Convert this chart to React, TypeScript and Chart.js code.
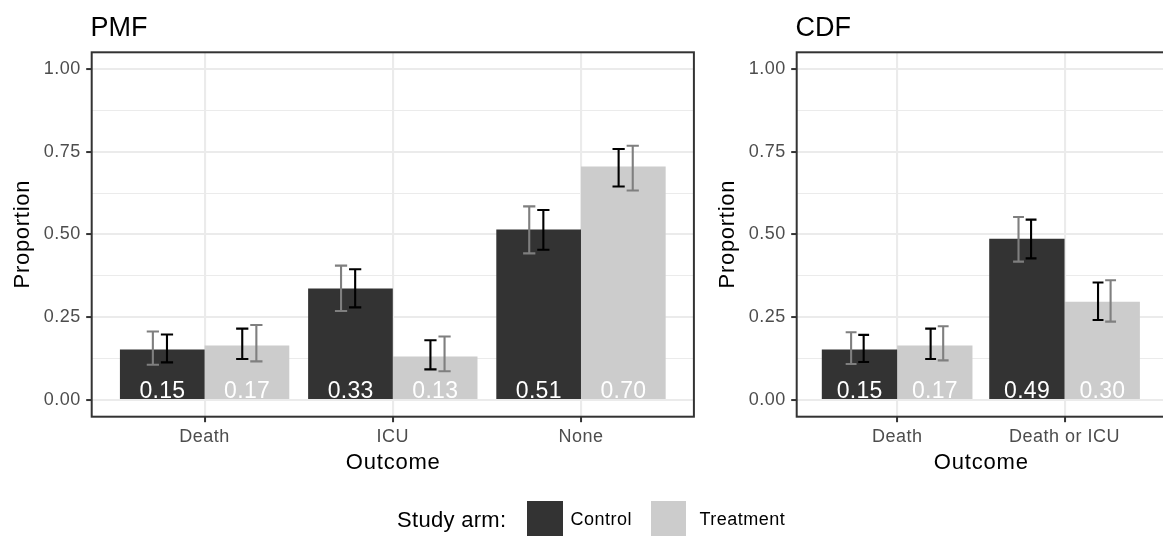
import React, { useEffect, useRef } from 'react';
import { Chart, registerables } from 'chart.js';

Chart.register(...registerables);

const FONT = "'Liberation Sans', Arial, Helvetica, sans-serif";

// ---------------- data ----------------
const pmfCategories = ['Death', 'ICU', 'None'];
const pmfControl = [0.153, 0.337, 0.515];
const pmfTreatment = [0.165, 0.132, 0.705];
const pmfControlLabels = ['0.15', '0.33', '0.51'];
const pmfTreatmentLabels = ['0.17', '0.13', '0.70'];
const pmfControlBlackLo = [0.114, 0.28, 0.454];
const pmfControlBlackHi = [0.198, 0.395, 0.574];
const pmfControlGreyLo = [0.107, 0.269, 0.443];
const pmfControlGreyHi = [0.207, 0.406, 0.585];
const pmfTreatmentBlackLo = [0.124, 0.093, 0.645];
const pmfTreatmentBlackHi = [0.216, 0.181, 0.758];
const pmfTreatmentGreyLo = [0.117, 0.087, 0.633];
const pmfTreatmentGreyHi = [0.227, 0.192, 0.768];

const cdfCategories = ['Death', 'Death or ICU'];
const cdfControl = [0.153, 0.487];
const cdfTreatment = [0.165, 0.297];
const cdfControlLabels = ['0.15', '0.49'];
const cdfTreatmentLabels = ['0.17', '0.30'];
const cdfControlBlackLo = [0.115, 0.428];
const cdfControlBlackHi = [0.197, 0.545];
const cdfControlGreyLo = [0.109, 0.418];
const cdfControlGreyHi = [0.205, 0.553];
const cdfTreatmentBlackLo = [0.124, 0.242];
const cdfTreatmentBlackHi = [0.216, 0.355];
const cdfTreatmentGreyLo = [0.12, 0.237];
const cdfTreatmentGreyHi = [0.223, 0.362];

const yMajorTicks = [0, 0.25, 0.5, 0.75, 1];
const yMinorTicks = [0.125, 0.375, 0.625, 0.875];
const yTickLabels = ['0.00', '0.25', '0.50', '0.75', '1.00'];
const yRange = [-0.05, 1.05];
const seriesNames = ['Control', 'Treatment'];
const seriesColors = ['#333333', '#CCCCCC'];
const legendTitle = 'Study arm:';
const xAxisTitle = 'Outcome';
const yAxisTitle = 'Proportion';

// ---------------- style / layout constants ----------------
const H = 538;
const AREA_TOP = 52.3;
const AREA_BOTTOM = 416.7;
const Y_AXIS_W = 91.7;
const GRID = '#EBEBEB';
const INK = '#333333';
const TICK_TEXT = '#4D4D4D';
const BLACK_BAR = '#000000';
const GREY_BAR = '#7F7F7F';
const BLACK_OFF = 0.2;
const GREY_OFF = 0.275;
const CAP_W = 0.065;

type PanelSpec = {
  title: string;
  categories: string[];
  control: number[];
  treatment: number[];
  controlLabels: string[];
  treatmentLabels: string[];
  cBlackLo: number[]; cBlackHi: number[]; cGreyLo: number[]; cGreyHi: number[];
  tBlackLo: number[]; tBlackHi: number[]; tGreyLo: number[]; tGreyHi: number[];
  left: number;
  width: number;
  areaRight: number;
};

const pmfSpec: PanelSpec = {
  title: 'PMF',
  categories: pmfCategories,
  control: pmfControl,
  treatment: pmfTreatment,
  controlLabels: pmfControlLabels,
  treatmentLabels: pmfTreatmentLabels,
  cBlackLo: pmfControlBlackLo, cBlackHi: pmfControlBlackHi,
  cGreyLo: pmfControlGreyLo, cGreyHi: pmfControlGreyHi,
  tBlackLo: pmfTreatmentBlackLo, tBlackHi: pmfTreatmentBlackHi,
  tGreyLo: pmfTreatmentGreyLo, tGreyHi: pmfTreatmentGreyHi,
  left: 0,
  width: 705,
  areaRight: 693.9,
};

const cdfSpec: PanelSpec = {
  title: 'CDF',
  categories: cdfCategories,
  control: cdfControl,
  treatment: cdfTreatment,
  controlLabels: cdfControlLabels,
  treatmentLabels: cdfTreatmentLabels,
  cBlackLo: cdfControlBlackLo, cBlackHi: cdfControlBlackHi,
  cGreyLo: cdfControlGreyLo, cGreyHi: cdfControlGreyHi,
  tBlackLo: cdfTreatmentBlackLo, tBlackHi: cdfTreatmentBlackHi,
  tGreyLo: cdfTreatmentGreyLo, tGreyHi: cdfTreatmentGreyHi,
  left: 705,
  width: 470,
  areaRight: 460,
};

const isMajor = (v: number) => yMajorTicks.indexOf(v) >= 0;

function Panel({ spec }: { spec: PanelSpec }) {
  const ref = useRef<HTMLCanvasElement | null>(null);

  useEffect(() => {
    const canvas = ref.current;
    if (!canvas) return;
    const n = spec.categories.length;

    const drawErr = (ctx: any, xs: any, ys: any, xc: number, lo: number, hi: number, color: string) => {
      const x = xs.getPixelForValue(xc);
      const hw = xs.getPixelForValue(xc + CAP_W / 2) - x;
      const yl = ys.getPixelForValue(lo);
      const yh = ys.getPixelForValue(hi);
      ctx.strokeStyle = color;
      ctx.lineWidth = 2.1;
      ctx.lineCap = 'butt';
      ctx.beginPath();
      ctx.moveTo(x - hw, yh); ctx.lineTo(x + hw, yh);
      ctx.moveTo(x, yh); ctx.lineTo(x, yl);
      ctx.moveTo(x - hw, yl); ctx.lineTo(x + hw, yl);
      ctx.stroke();
    };

    const decor = {
      id: 'panelDecor',
      beforeDraw(chart: any) {
        chart.ctx.letterSpacing = '0.5px';
      },
      afterDatasetsDraw(chart: any) {
        const ctx = chart.ctx;
        const xs = chart.scales.x;
        const ys = chart.scales.y;
        ctx.save();
        // value labels
        ctx.letterSpacing = '0.3px';
        ctx.font = `23px ${FONT}`;
        ctx.fillStyle = '#FFFFFF';
        ctx.textAlign = 'center';
        ctx.textBaseline = 'alphabetic';
        const yb = ys.getPixelForValue(0) - 2.2;
        [spec.controlLabels, spec.treatmentLabels].forEach((labels, d) => {
          const meta = chart.getDatasetMeta(d);
          labels.forEach((t, i) => {
            ctx.fillText(t, meta.data[i].x + 0.15, yb);
          });
        });
        // error bars
        for (let i = 0; i < n; i++) {
          drawErr(ctx, xs, ys, i - GREY_OFF, spec.cGreyLo[i], spec.cGreyHi[i], GREY_BAR);
          drawErr(ctx, xs, ys, i - BLACK_OFF, spec.cBlackLo[i], spec.cBlackHi[i], BLACK_BAR);
          drawErr(ctx, xs, ys, i + BLACK_OFF, spec.tBlackLo[i], spec.tBlackHi[i], BLACK_BAR);
          drawErr(ctx, xs, ys, i + GREY_OFF, spec.tGreyLo[i], spec.tGreyHi[i], GREY_BAR);
        }
        ctx.restore();
      },
      afterDraw(chart: any) {
        const ctx = chart.ctx;
        const a = chart.chartArea;
        ctx.save();
        // panel border
        ctx.strokeStyle = INK;
        ctx.lineWidth = 2;
        ctx.strokeRect(a.left, a.top, a.right - a.left, a.bottom - a.top);
        // panel title
        ctx.letterSpacing = '0px';
        ctx.fillStyle = '#000000';
        ctx.font = `27px ${FONT}`;
        ctx.textAlign = 'left';
        ctx.textBaseline = 'alphabetic';
        ctx.fillText(spec.title, a.left - 1.2, 35.5);
        // x axis title
        ctx.letterSpacing = '0.8px';
        ctx.font = `22px ${FONT}`;
        ctx.textAlign = 'center';
        ctx.fillText(xAxisTitle, (a.left + a.right) / 2 + 0.4, 469);
        // y axis title
        ctx.letterSpacing = '0.7px';
        ctx.translate(a.left - 62.5, (a.top + a.bottom) / 2);
        ctx.rotate(-Math.PI / 2);
        ctx.textAlign = 'center';
        ctx.fillText(yAxisTitle, 0.35, 0);
        ctx.restore();
      },
    };

    const chart = new Chart(canvas, {
      type: 'bar',
      data: {
        datasets: [spec.control, spec.treatment].map((vals, d) => ({
          label: seriesNames[d],
          data: spec.categories.map((_, i) => ({ x: i, y: vals[i] })),
          backgroundColor: seriesColors[d],
          borderWidth: 0,
          categoryPercentage: 0.9,
          barPercentage: 1,
        })),
      },
      options: {
        responsive: false,
        animation: false,
        events: [],
        layout: {
          padding: { left: 0, top: AREA_TOP, right: spec.width - spec.areaRight, bottom: 0 },
        },
        plugins: {
          legend: { display: false },
          tooltip: { enabled: false },
          title: { display: false },
        },
        scales: {
          x: {
            type: 'linear',
            min: -0.6,
            max: n - 0.4,
            offset: false,
            afterBuildTicks: (s: any) => {
              s.ticks = spec.categories.map((_, i) => ({ value: i }));
            },
            afterFit: (s: any) => {
              s.height = H - AREA_BOTTOM;
              s.paddingLeft = 0;
              s.paddingRight = 0;
            },
            grid: {
              offset: false,
              color: GRID,
              lineWidth: 2.1,
              tickColor: INK,
              tickWidth: 2,
              tickLength: 5.5,
              drawTicks: true,
            },
            border: { display: false },
            ticks: {
              callback: (v: any) => spec.categories[v] ?? '',
              color: TICK_TEXT,
              font: { family: FONT, size: 18 },
              padding: 4.5,
              autoSkip: false,
              maxRotation: 0,
              minRotation: 0,
            },
          } as any,
          y: {
            type: 'linear',
            min: yRange[0],
            max: yRange[1],
            beginAtZero: false,
            afterBuildTicks: (s: any) => {
              s.ticks = [...yMajorTicks, ...yMinorTicks]
                .sort((p, q) => p - q)
                .map((v) => ({ value: v }));
            },
            afterFit: (s: any) => {
              s.width = Y_AXIS_W;
              s.paddingTop = 0;
              s.paddingBottom = 0;
            },
            grid: {
              color: GRID,
              lineWidth: (c: any) => (c.tick && !isMajor(c.tick.value) ? 1.05 : 2.1),
              tickColor: (c: any) => (c.tick && isMajor(c.tick.value) ? INK : 'rgba(0,0,0,0)'),
              tickWidth: 2,
              tickLength: 5.5,
              drawTicks: true,
            },
            border: { display: false },
            ticks: {
              callback: (v: any) => {
                const k = yMajorTicks.indexOf(v);
                return k >= 0 ? yTickLabels[k] : '';
              },
              color: TICK_TEXT,
              font: { family: FONT, size: 18 },
              padding: 5.4,
              autoSkip: false,
            },
          } as any,
        },
      },
      plugins: [decor],
    });

    return () => chart.destroy();
  }, [spec]);

  return (
    <canvas
      ref={ref}
      width={spec.width}
      height={H}
      style={{ position: 'absolute', left: spec.left, top: 0, width: spec.width, height: H }}
    />
  );
}

const legendKeyLefts = [527.3, 651];
const legendTextLefts = [570.5, 699.5];

export default function App() {
  const textBase: React.CSSProperties = {
    position: 'absolute',
    fontFamily: FONT,
    color: '#000',
    whiteSpace: 'nowrap',
    height: 30,
    lineHeight: '30px',
  };
  return (
    <div
      style={{
        position: 'fixed',
        left: 0,
        top: 0,
        width: 1163,
        height: H,
        overflow: 'hidden',
        background: '#FFFFFF',
      }}
    >
      <Panel spec={pmfSpec} />
      <Panel spec={cdfSpec} />
      <div style={{ ...textBase, left: 397, top: 504.5, fontSize: 22, letterSpacing: 0.3 }}>
        {legendTitle}
      </div>
      {seriesNames.map((name, d) => (
        <React.Fragment key={name}>
          <div
            style={{
              position: 'absolute',
              left: legendKeyLefts[d],
              top: 501,
              width: 35.3,
              height: 34.7,
              background: seriesColors[d],
            }}
          />
          <div style={{ ...textBase, left: legendTextLefts[d], top: 504, fontSize: 18, letterSpacing: 0.5 }}>
            {name}
          </div>
        </React.Fragment>
      ))}
    </div>
  );
}
